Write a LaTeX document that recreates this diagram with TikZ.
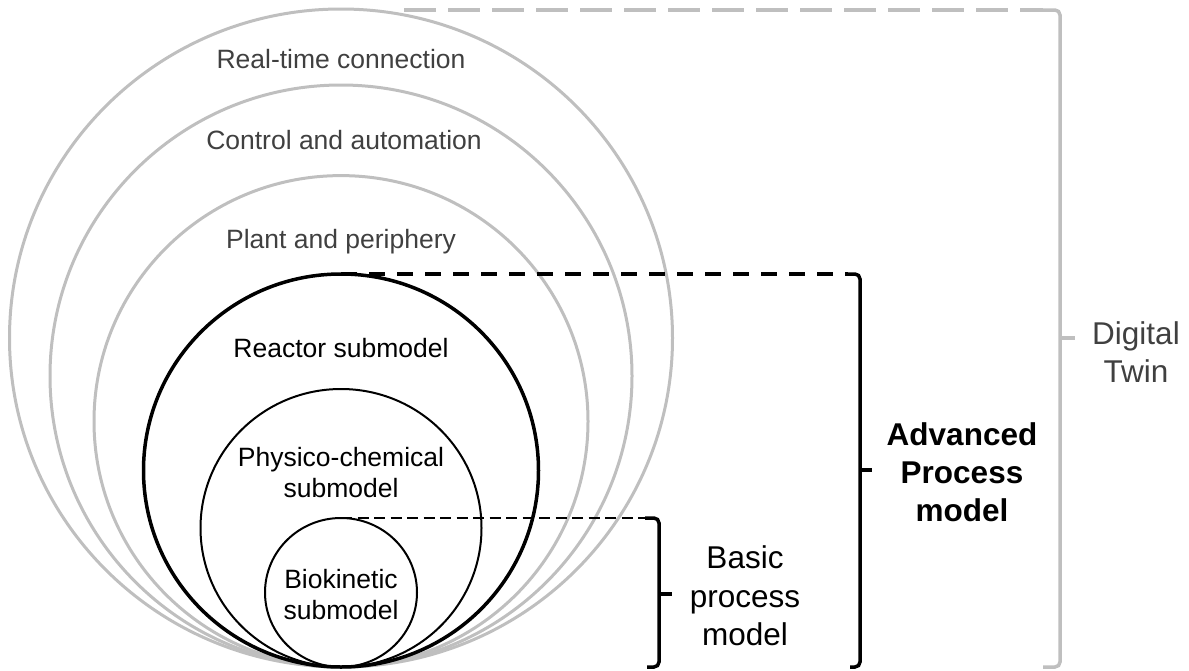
\documentclass[tikz,border=0pt]{standalone}
\usepackage{fontspec}
\setmainfont{Liberation Sans}
\definecolor{ringgray}{HTML}{BFBFBF}
\definecolor{textgray}{HTML}{404040}
\begin{document}
\begin{tikzpicture}[x=1pt,y=-1pt,
  ring/.style={draw=ringgray,line width=3pt},
  reactor/.style={draw=black,line width=3.5pt},
  inner/.style={draw=black,line width=2pt},
  outerlbl/.style={text=textgray,font=\fontsize{26.5}{31}\selectfont,anchor=base,inner sep=0pt},
  innerlbl/.style={text=black,font=\fontsize{26.5}{31}\selectfont,anchor=base,inner sep=0pt},
  scopelbl/.style={font=\fontsize{31.5}{38}\selectfont,anchor=base,inner sep=0pt},
  twinbrace/.style={draw=ringgray,line width=3.5pt,rounded corners=5pt},
  modelbrace/.style={draw=black,line width=3.5pt,rounded corners=5pt},
  twindash/.style={draw=ringgray,line width=3.5pt,dash pattern=on 32pt off 12pt},
  advdash/.style={draw=black,line width=3.5pt,dash pattern=on 16pt off 12pt},
  basicdash/.style={draw=black,line width=2pt,dash pattern=on 11pt off 5.5pt}]
\useasboundingbox (0,0) rectangle (1189,670);

% common tangent point of all rings
\coordinate (base) at (341,667);

% nested rings, all touching at the bottom
\draw[ring] (341,338) ellipse [x radius=331.5pt, y radius=329pt];
\draw[ring] (341,376) ellipse [x radius=291pt, y radius=291pt];
\draw[ring] (341,421.3) ellipse [x radius=247pt, y radius=245.7pt];
\draw[reactor] (341,470.5) ellipse [x radius=197.5pt, y radius=196.5pt];
\draw[inner] (341,528) ellipse [x radius=140.5pt, y radius=139pt];
\draw[inner] (341,592.5) ellipse [x radius=76pt, y radius=74.5pt];

% ring tops
\coordinate (reactortop) at (341,274);
\coordinate (biotop) at (341,518);

% ring labels
\node[outerlbl] (rtc) at (341,68.5) {Real-time connection};
\node[outerlbl] (caa) at (344,149.5) {Control and automation};
\node[outerlbl] (pap) at (341,248) {Plant and periphery};
\node[innerlbl] (rsm) at (341,357) {Reactor submodel};
\node[innerlbl] (pcm1) at (341,466.5) {Physico-chemical};
\node[innerlbl] (pcm2) at (341,497) {submodel};
\node[innerlbl] (bkm1) at (341,588) {Biokinetic};
\node[innerlbl] (bkm2) at (341,619) {submodel};

% Digital Twin bracket
\coordinate (dtstart) at (404,10);
\coordinate (dtcorner) at (1043,10);
\coordinate (dttr) at (1060,10);
\coordinate (dtbr) at (1060,667);
\coordinate (dtend) at (1043,667);
\coordinate (dtmid) at (1060,338);
\coordinate (dttick) at (1075,338);
\draw[twindash] (dtstart) -- (dtcorner);
\draw[twinbrace] (dtcorner) -- (dttr) -- (dtbr) -- (dtend);
\draw[twinbrace] (dtmid) -- (dttick);
\node[scopelbl,text=textgray] (dt1) at (1136,344) {Digital};
\node[scopelbl,text=textgray] (dt2) at (1136,382) {Twin};

% Advanced process model bracket
\coordinate (apcorner) at (848,274);
\coordinate (aptr) at (860,274);
\coordinate (apbr) at (860,667);
\coordinate (apend) at (850,667);
\coordinate (apmid) at (860,470);
\coordinate (aptick) at (872,470);
\draw[advdash] (reactortop) -- (apcorner);
\draw[modelbrace] (apcorner) -- (aptr) -- (apbr) -- (apend);
\draw[modelbrace] (apmid) -- (aptick);
\node[scopelbl,font=\fontsize{31.5}{38}\bfseries] (ap1) at (962,445) {Advanced};
\node[scopelbl,font=\fontsize{31.5}{38}\bfseries] (ap2) at (962,483) {Process};
\node[scopelbl,font=\fontsize{31.5}{38}\bfseries] (ap3) at (962,521) {model};

% Basic process model bracket
\coordinate (bpcorner) at (645,518);
\coordinate (bptr) at (659,518);
\coordinate (bpbr) at (659,667);
\coordinate (bpend) at (647,667);
\coordinate (bpmid) at (659,594);
\coordinate (bptick) at (672,594);
\draw[basicdash] (biotop) -- (bpcorner);
\draw[modelbrace] (bpcorner) -- (bptr) -- (bpbr) -- (bpend);
\draw[modelbrace] (bpmid) -- (bptick);
\node[scopelbl] (bp1) at (745,568) {Basic};
\node[scopelbl] (bp2) at (745,607) {process};
\node[scopelbl] (bp3) at (745,645) {model};
\end{tikzpicture}
\end{document}
